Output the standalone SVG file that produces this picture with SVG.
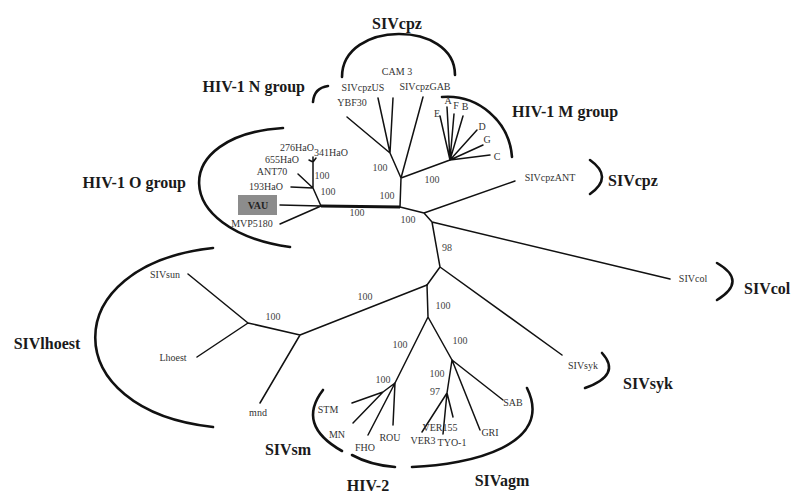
<svg xmlns="http://www.w3.org/2000/svg" width="792" height="495" viewBox="0 0 792 495">
<style>
.e{stroke:#111;stroke-width:1.5;fill:none;stroke-linecap:round}
.t{stroke:#111;stroke-width:3;fill:none}
.a{stroke:#111;stroke-width:2.6;fill:none;stroke-linecap:round}
.l{font-family:"Liberation Serif","Times New Roman",serif;font-size:10px;fill:#333;text-anchor:middle}
.b{font-family:"Liberation Serif","Times New Roman",serif;font-size:10px;fill:#444;text-anchor:middle}
.g{font-family:"Liberation Serif","Times New Roman",serif;font-size:16px;font-weight:bold;fill:#1a1a1a}
</style>
<rect width="792" height="495" fill="#fff"/>
<g id="connectors">
<path class="t" d="M321,206 L400,207"/>
<path class="e" d="M400,207 L401,178 M401,178 L390,153 M390,153 L378,98 M390,153 L393,98 M390,153 L347,117 M401,178 L423,97 M401,178 L450,160"/>
<path class="e" d="M450,160 L440,116 M450,160 L447,107 M450,160 L454,114 M450,160 L463,116 M450,160 L477,130 M450,160 L483,145 M450,160 L490,155"/>
<path class="e" d="M400,207 L424,213 M424,213 L515,181 M424,213 L432,222 M432,222 L670,279 M432,222 L440,267 M440,267 L562,355 M440,267 L427,285"/>
<path class="e" d="M427,285 L300,335 M300,335 L248,323 M248,323 L188,274 M248,323 L197,357 M300,335 L260,403"/>
<path class="e" d="M427,285 L428,317 M428,317 L395,383 M428,317 L452,360"/>
<path class="e" d="M395,383 L383,392 M383,392 L352,403 M383,392 L353,423 M395,383 L368,435 M395,383 L393,425"/>
<path class="e" d="M452,360 L503,400 M452,360 L480,430 M452,360 L447,393 M447,393 L422,432 M447,393 L443,434 M447,393 L453,417"/>
<path class="e" d="M321,206 L280,205 M321,206 L280,224 M321,206 L313,188 M313,188 L291,187 M313,188 L298,174 M313,188 L313,162 M313,162 L309,160 M313,162 L313,157 M313,162 L316,158"/>
</g>
<g id="arcs">
<path class="a" d="M342,77 C342,20 455,20 455,75"/>
<path class="a" d="M328,86 Q314,88 313,102"/>
<path class="a" d="M442,97 A65,65 0 0 1 512,157"/>
<path class="a" d="M590,160 Q614,177 590,194"/>
<path class="a" d="M283,128 C170,135 170,230 290,247"/>
<path class="a" d="M213,248 C56,265 56,410 213,427"/>
<path class="a" d="M323,390 Q296,425 342,451"/>
<path class="a" d="M352,455 Q370,465 395,467"/>
<path class="a" d="M412,467 C470,465 555,445 527,388"/>
<path class="a" d="M717,263 Q748,281 717,300"/>
<path class="a" d="M602,353 Q622,375 585,388"/>
</g>
<g id="group-labels">
<text class="g" x="397" y="29" text-anchor="middle">SIVcpz</text>
<text class="g" x="305" y="92" text-anchor="end">HIV-1 N group</text>
<text class="g" x="565" y="117" text-anchor="middle">HIV-1 M group</text>
<text class="g" x="186" y="188" text-anchor="end">HIV-1 O group</text>
<text class="g" x="608" y="186">SIVcpz</text>
<text class="g" x="744" y="294">SIVcol</text>
<text class="g" x="623" y="389">SIVsyk</text>
<text class="g" x="47" y="349" text-anchor="middle">SIVlhoest</text>
<text class="g" x="288" y="455" text-anchor="middle">SIVsm</text>
<text class="g" x="368" y="491" text-anchor="middle">HIV-2</text>
<text class="g" x="502" y="486" text-anchor="middle">SIVagm</text>
</g>
<g id="leaf-cpz">
<text class="l" x="363" y="91">SIVcpzUS</text>
<text class="l" x="397" y="75">CAM 3</text>
<text class="l" x="425" y="90">SIVcpzGAB</text>
<text class="l" x="352" y="106">YBF30</text>
<text class="l" x="550" y="181">SIVcpzANT</text>
</g>
<g id="leaf-M">
<text class="l" x="437" y="117">E</text>
<text class="l" x="448" y="104">A</text>
<text class="l" x="456" y="109">F</text>
<text class="l" x="465" y="110">B</text>
<text class="l" x="482" y="130">D</text>
<text class="l" x="487" y="143">G</text>
<text class="l" x="497" y="160">C</text>
</g>
<g id="leaf-O">
<text class="l" x="297" y="151">276HaO</text>
<text class="l" x="331" y="156">341HaO</text>
<text class="l" x="282" y="163">655HaO</text>
<text class="l" x="272" y="175">ANT70</text>
<text class="l" x="266" y="190">193HaO</text>
<rect x="238" y="195" width="39" height="20" fill="#8c8c8c"/>
<text class="l" x="258" y="209" style="font-weight:bold;fill:#222">VAU</text>
<text class="l" x="252" y="227">MVP5180</text>
</g>
<g id="leaf-lhoest">
<text class="l" x="165" y="278">SIVsun</text>
<text class="l" x="173" y="361">Lhoest</text>
<text class="l" x="258" y="416">mnd</text>
</g>
<g id="leaf-other">
<text class="l" x="693" y="282">SIVcol</text>
<text class="l" x="583" y="369">SIVsyk</text>
</g>
<g id="leaf-hiv2">
<text class="l" x="328" y="413">STM</text>
<text class="l" x="337" y="438">MN</text>
<text class="l" x="365" y="451">FHO</text>
<text class="l" x="390" y="441">ROU</text>
</g>
<g id="leaf-agm">
<text class="l" x="423" y="444">VER3</text>
<text class="l" x="452" y="446">TYO-1</text>
<text class="l" x="440" y="431" text-anchor="start">VER155</text>
<text class="l" x="490" y="436">GRI</text>
<text class="l" x="513" y="406">SAB</text>
</g>
<g id="bootstrap">
<text class="b" x="322" y="179">100</text>
<text class="b" x="328" y="195">100</text>
<text class="b" x="357" y="216">100</text>
<text class="b" x="387" y="199">100</text>
<text class="b" x="408" y="223">100</text>
<text class="b" x="380" y="171">100</text>
<text class="b" x="432" y="183">100</text>
<text class="b" x="447" y="251">98</text>
<text class="b" x="365" y="300">100</text>
<text class="b" x="443" y="309">100</text>
<text class="b" x="273" y="320">100</text>
<text class="b" x="400" y="348">100</text>
<text class="b" x="460" y="344">100</text>
<text class="b" x="383" y="383">100</text>
<text class="b" x="437" y="377">100</text>
<text class="b" x="435" y="395">97</text>
</g>
</svg>
